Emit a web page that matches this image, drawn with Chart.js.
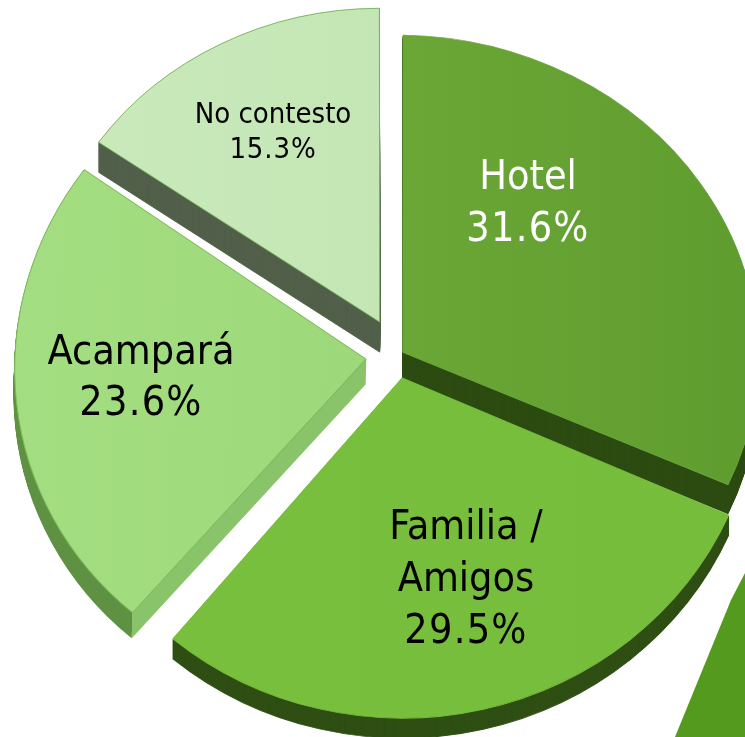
<!DOCTYPE html>
<html>
<head>
<meta charset="utf-8">
<title>Alojamiento</title>
<script src="https://cdn.jsdelivr.net/npm/chart.js@4"></script>
<style>
    html, body { margin: 0; padding: 0; background: #fff; overflow: hidden; }
    #wrap { position: relative; width: 745px; height: 737px; }
    #corner { position: absolute; left: 0; top: 0; width: 745px; height: 737px; background: #549a1f;
              clip-path: polygon(745px 573px, 745px 737px, 675px 737px, 731px 600px); }
    #pie { position: absolute; left: 0; top: 0; }
</style>
</head>
<body>
<div id="wrap">
    <div id="corner"></div>
    <canvas id="pie" width="745" height="737"></canvas>
</div>
<script>
// Data
const categories = ['Hotel', 'Familia / Amigos', 'Acampará', 'No contesto'];
const shares = [31.6, 29.5, 23.6, 15.3];

// Labels, one entry per line (the last line is the share)
const labelLines = [['Hotel'], ['Familia /', 'Amigos'], ['Acampará'], ['No contesto']];
const labelColors = ['#ffffff', '#000000', '#000000', '#000000'];
const labelSizes = [41, 41, 41, 29];
const labelGaps = [52, 52, 51, 35];
const labelAnchors = [[528, 189], [466, 539], [141, 364], [273, 123]];

// Colours
const faceLeft = ['#6ba736', '#78c03d', '#a4de82', '#cbeabe'];
const faceRight = ['#5f9c2f', '#76bd3b', '#96d372', '#bde2aa'];
const wallColors = ['#2d4c12', '#2f4f14', '#8ac46a', '#52604a'];
const edgeColors = ['#6aa63a', '#78bf3e', '#7fbb5c', '#78b35a'];

// Look of the tilted pie, the front of the picture is a bit bigger than the back
const scaleX = [1.011, 1.017, 1.003, 0.975];
const scaleY = [0.903, 0.969, 0.945, 0.892];
const shearX = [0, 0, -0.03, 0];
const shearY = [0.015, 0, 0, 0];
const pieCenter = [391, 356];
const explode = [56, 100, 100, 40];
const nudges = [[0, 3], [5.3, -1.6], [0, 0], [-6.8, -26]];
const depths = [29, 20, 25, 30];
const drawOrder = [3, 2, 0, 1];

function drawSlice(ctx, arc, backgroundColor, borderColor) {
    const saved = arc.options;
    arc.options = Object.assign({}, saved, { backgroundColor: backgroundColor, borderColor: borderColor });
    arc.draw(ctx);
    arc.options = saved;
}

// Draws the arcs ourselves so they get the tilt and the side walls
const tiltedPie = {
    id: 'tiltedPie',
    beforeDatasetDraw(chart) {
        const ctx = chart.ctx;
        const arcs = chart.getDatasetMeta(0).data;
        const midX = (chart.chartArea.left + chart.chartArea.right) / 2;
        const midY = (chart.chartArea.top + chart.chartArea.bottom) / 2;

        drawOrder.forEach(function(i) {
            const arc = arcs[i];
            ctx.save();
            ctx.translate(pieCenter[0] + nudges[i][0], pieCenter[1] + nudges[i][1]);
            ctx.transform(scaleX[i], shearY[i], shearX[i], scaleY[i], 0, 0);
            ctx.translate(-midX, -midY);

            let wall = wallColors[i];
            if (i === 2) {
                // outer rim of this slice is darker than its cut side
                wall = ctx.createLinearGradient(arc.x - 238, 0, arc.x - 225, 0);
                wall.addColorStop(0, '#5e9142');
                wall.addColorStop(0.98, '#5e9142');
                wall.addColorStop(1, wallColors[i]);
            }
            for (let d = depths[i]; d > 0; d--) {
                ctx.save();
                ctx.translate(0, d / scaleY[i]);
                drawSlice(ctx, arc, wall, wall);
                ctx.restore();
            }

            // Hotel only fills the right half, so its gradient starts at the centre
            const gradStart = i === 0 ? arc.x : arc.x - 360;
            const face = ctx.createLinearGradient(gradStart, 0, arc.x + 360, 0);
            face.addColorStop(0, faceLeft[i]);
            face.addColorStop(1, faceRight[i]);
            drawSlice(ctx, arc, face, edgeColors[i]);
            ctx.restore();
        });
        return false;
    },
    afterDraw(chart) {
        const ctx = chart.ctx;
        ctx.save();
        ctx.textAlign = 'center';
        ctx.textBaseline = 'alphabetic';
        categories.forEach(function(name, i) {
            const lines = labelLines[i].concat([shares[i].toFixed(1) + '%']);
            ctx.font = labelSizes[i] + 'px "DejaVu Sans Condensed", "DejaVu Sans"';
            ctx.fillStyle = labelColors[i];
            lines.forEach(function(line, n) {
                // the numbers run a little wider in the original
                ctx.letterSpacing = n === lines.length - 1 ? (labelSizes[i] * 0.03) + 'px' : '0px';
                ctx.fillText(line, labelAnchors[i][0], labelAnchors[i][1] + n * labelGaps[i]);
            });
        });
        ctx.restore();
    }
};

new Chart(document.getElementById('pie'), {
    type: 'pie',
    data: {
        labels: categories,
        datasets: [{
            data: shares,
            backgroundColor: faceLeft,
            borderColor: edgeColors,
            borderWidth: 1,
            offset: explode
        }]
    },
    options: {
        responsive: false,
        animation: false,
        radius: 350,
        events: [],
        plugins: {
            legend: { display: false },
            tooltip: { enabled: false }
        }
    },
    plugins: [tiltedPie]
});
</script>
</body>
</html>
